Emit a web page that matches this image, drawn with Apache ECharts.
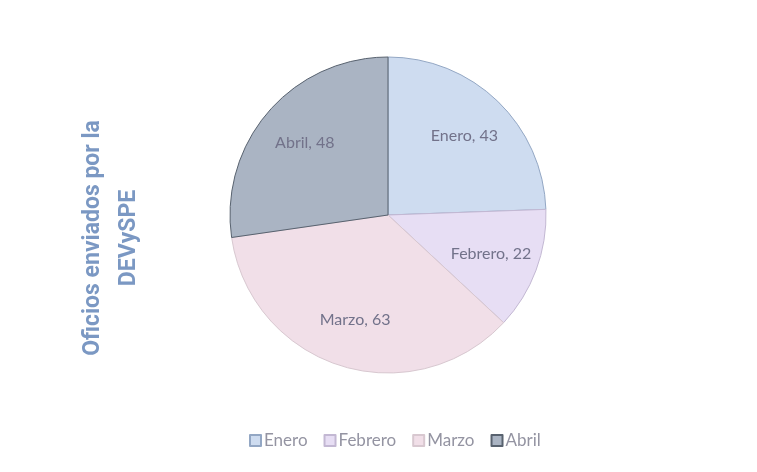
<!DOCTYPE html>
<html>
<head>
<meta charset="utf-8">
<script src="https://cdn.jsdelivr.net/npm/echarts@6/dist/echarts.min.js"></script>
<style>
html,body{margin:0;padding:0;background:#fff;}
#c{width:757px;height:472px;}
</style>
</head>
<body>
<div id="c"></div>
<script>
const categories = ['Enero', 'Febrero', 'Marzo', 'Abril'];
const values = [43, 22, 63, 48];
const titleLines = ['Oficios enviados por la', 'DEVySPE'];

const fills = ['#cedcf0', '#e7def4', '#f1dfe8', '#aab4c3'];
const borders = ['#93a7c4', '#c3b8d3', '#d8c8d0', '#58626f'];

const chart = echarts.init(document.getElementById('c'));
const pieData = categories.map((n, i) => ({
  name: n, value: values[i],
  itemStyle: { color: fills[i], borderColor: borders[i], borderWidth: 1 }
}));
const labelData = categories.map((n, i) => ({ name: n, value: values[i] }));

chart.setOption({
  backgroundColor: '#ffffff',
  animation: false,
  legend: {
    bottom: 18,
    left: 244,
    icon: 'rect',
    itemWidth: 11,
    itemHeight: 11,
    itemGap: 16,
    textStyle: { fontFamily: 'Lato', fontSize: 17, color: '#9494a2', padding: [0, 0, 0, -2] },
    data: categories
  },
  graphic: [{
    type: 'text',
    x: 111,
    y: 238,
    rotation: Math.PI / 2,
    style: {
      text: titleLines.join('\n'),
      font: 'bold 23px Roboto',
      fill: '#7b98c3',
      align: 'center',
      verticalAlign: 'middle',
      lineHeight: 36
    }
  }],
  series: [
    {
      type: 'pie',
      center: [388, 215],
      radius: [0, 158],
      startAngle: 90,
      clockwise: true,
      label: { show: false },
      labelLine: { show: false },
      emphasis: { disabled: true },
      data: pieData
    },
    {
      type: 'pie',
      center: [388, 215],
      radius: [0, 214],
      startAngle: 90,
      clockwise: true,
      silent: true,
      itemStyle: { color: 'rgba(0,0,0,0)', borderWidth: 0 },
      label: {
        show: true,
        position: 'inside',
        formatter: '{b}, {c}',
        fontFamily: 'Lato',
        fontSize: 16,
        color: '#72728a'
      },
      labelLine: { show: false },
      emphasis: { disabled: true },
      data: labelData
    }
  ]
});
</script>
</body>
</html>
